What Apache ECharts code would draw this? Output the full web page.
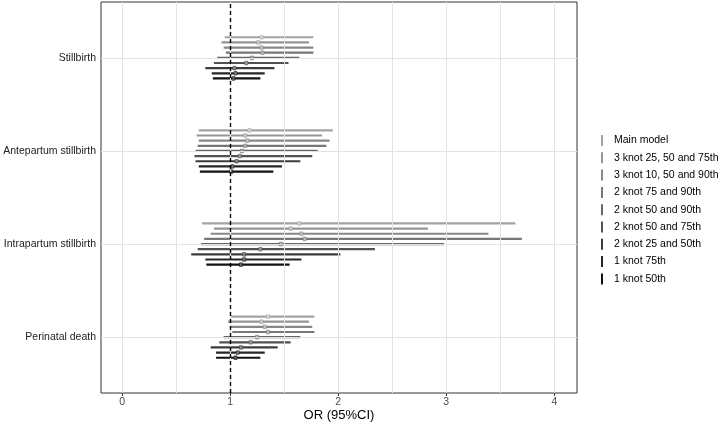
<!DOCTYPE html>
<html><head><meta charset="utf-8">
<script src="https://cdn.jsdelivr.net/npm/echarts@6/dist/echarts.min.js"></script>
<style>html,body{margin:0;padding:0;background:#fff}#c{width:722px;height:424px}</style>
</head><body><div id="c"></div>
<script>
const outcomes = ['Stillbirth','Antepartum stillbirth','Intrapartum stillbirth','Perinatal death'];
const models = ['Main model','3 knot 25, 50 and 75th','3 knot 10, 50 and 90th','2 knot 75 and 90th','2 knot 50 and 90th','2 knot 50 and 75th','2 knot 25 and 50th','1 knot 75th','1 knot 50th'];
const xTicks = [0,1,2,3,4];
// per model: [Stillbirth, Antepartum, Intrapartum, Perinatal]
const estimate = [
  [1.29,1.18,1.64,1.35],
  [1.26,1.14,1.56,1.29],
  [1.29,1.16,1.66,1.32],
  [1.30,1.14,1.69,1.35],
  [1.20,1.11,1.47,1.25],
  [1.15,1.09,1.28,1.19],
  [1.04,1.06,1.13,1.10],
  [1.05,1.02,1.13,1.07],
  [1.03,1.01,1.10,1.05]
];
const lower = [
  [0.95,0.71,0.74,1.01],
  [0.92,0.69,0.85,0.98],
  [0.94,0.71,0.82,1.00],
  [0.96,0.70,0.76,1.02],
  [0.88,0.68,0.73,0.94],
  [0.85,0.67,0.70,0.90],
  [0.77,0.68,0.64,0.82],
  [0.83,0.71,0.77,0.87],
  [0.84,0.72,0.78,0.87]
];
const upper = [
  [1.77,1.95,3.64,1.78],
  [1.73,1.85,2.83,1.73],
  [1.77,1.92,3.39,1.76],
  [1.77,1.89,3.70,1.78],
  [1.64,1.81,2.98,1.65],
  [1.54,1.76,2.34,1.56],
  [1.41,1.65,2.02,1.44],
  [1.32,1.48,1.66,1.32],
  [1.28,1.40,1.55,1.28]
];
const colors = ['#a3a3a3','#959595','#878787','#777777','#656565','#525252','#3c3c3c','#262626','#111111'];
const pointColors = ['#dcdcdc','#d2d2d2','#c8c8c8','#bdbdbd','#b0b0b0','#a0a0a0','#8e8e8e','#7a7a7a','#666666'];
const dodge = 0.0553;

const series = models.map((m, j) => ({
  name: m,
  type: 'custom',
  itemStyle: {color: colors[j]},
  data: outcomes.map((o, i) => [lower[j][i], upper[j][i], estimate[j][i], (4 - i) + (4 - j) * dodge]),
  encode: {x: [0,1,2], y: 3},
  renderItem: function(params, api) {
    const a = api.coord([api.value(0), api.value(3)]);
    const b = api.coord([api.value(1), api.value(3)]);
    const p = api.coord([api.value(2), api.value(3)]);
    return {type: 'group', children: [
      {type: 'line', shape: {x1: a[0], y1: a[1], x2: b[0], y2: b[1]}, style: {stroke: colors[j], lineWidth: 2.2}},
      {type: 'rect', shape: {x: p[0]-1.5, y: p[1]-1.8, width: 3, height: 3.6}, style: {fill: pointColors[j], stroke: colors[j], lineWidth: 0.6}}
    ]};
  },
  z: 3
}));

const vGrid = [];
for (let v = 0; v <= 4.0001; v += 0.5) vGrid.push({xAxis: v});
const hGrid = [1,2,3,4].map(v => ({yAxis: v}));

series.unshift({
  name: 'grid', type: 'line', data: [], silent: true, z: 1,
  markLine: {silent: true, symbol: 'none', label: {show: false},
    lineStyle: {color: '#e3e3e3', width: 1, type: 'solid'},
    data: vGrid.concat(hGrid)}
});
series.push({
  name: 'ref', type: 'line', data: [], silent: true, z: 5,
  markLine: {silent: true, symbol: 'none', label: {show: false},
    lineStyle: {color: '#000', width: 1.4, type: [4,3]},
    data: [{xAxis: 1}]}
});

const chart = echarts.init(document.getElementById('c'), null, {renderer: 'canvas'});
chart.setOption({
  animation: false,
  backgroundColor: '#fff',
  textStyle: {fontFamily: 'Liberation Sans, Arial, sans-serif'},
  grid: {left: 101, right: 145, top: 2, bottom: 31, show: true, borderColor: '#333', borderWidth: 1, backgroundColor: 'transparent', containLabel: false, outerBoundsMode: 'none'},
  xAxis: {
    type: 'value', min: -0.195, max: 4.21,
    splitLine: {show: false}, axisLine: {show: false},
    axisTick: {show: true, customValues: xTicks, length: 3, inside: false, lineStyle: {color: '#333'}},
    axisLabel: {customValues: xTicks, color: '#4d4d4d', fontSize: 10.5, margin: 4},
    name: 'OR (95%CI)', nameLocation: 'middle', nameGap: 16, nameMoveOverlap: false,
    nameTextStyle: {color: '#000', fontSize: 13}
  },
  yAxis: {
    type: 'value', min: 0.4, max: 4.6,
    splitLine: {show: false}, axisLine: {show: false},
    axisTick: {show: true, customValues: [1,2,3,4], length: 3, lineStyle: {color: '#333'}},
    axisLabel: {customValues: [1,2,3,4], color: '#222', fontSize: 10.5, margin: 5,
      formatter: v => outcomes[4 - Math.round(v)] || ''}
  },
  legend: {
    data: models, orient: 'vertical', left: 596, top: 130,
    icon: 'rect', itemWidth: 2, itemHeight: 11, itemGap: 6.3,
    textStyle: {fontSize: 10.5, color: '#000', padding: [0,0,0,6]},
    selectedMode: false
  },
  series: series
});
</script></body></html>
